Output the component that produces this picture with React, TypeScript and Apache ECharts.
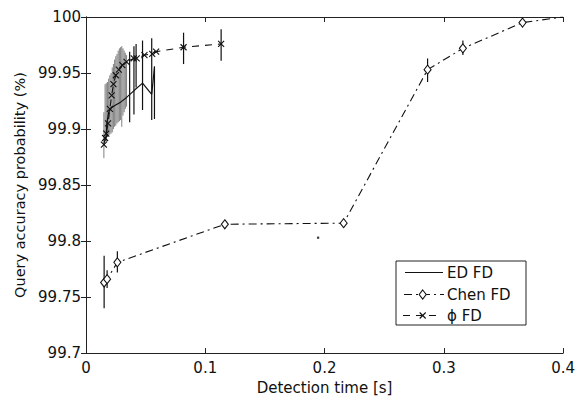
import React, { useEffect, useRef } from "react";
import * as echarts from "echarts";

// ---- axis ranges / ticks ----
const xTicks = [0, 0.1, 0.2, 0.3, 0.4];
const yTicks = [99.7, 99.75, 99.8, 99.85, 99.9, 99.95, 100];

// ---- legend entries ----
const legendNames = ["ED FD", "Chen FD", "ϕ FD"];

// ---- Chen FD (diamonds, dash-dot) ----
const chenX = [0.0152, 0.0177, 0.0263, 0.1164, 0.216, 0.2864, 0.316, 0.366, 0.4];
const chenY = [99.763, 99.766, 99.781, 99.815, 99.816, 99.953, 99.972, 99.995, 100.0];
const chenMark = [1, 1, 1, 1, 1, 1, 1, 1, 0];
const chenErrX = [0.0152, 0.0177, 0.0263, 0.2864, 0.316];
const chenErrLo = [99.74, 99.758, 99.772, 99.942, 99.966];
const chenErrHi = [99.787, 99.774, 99.791, 99.963, 99.979];

// ---- ED FD (solid) ----
const edX = [0.0166, 0.0175, 0.019, 0.0214, 0.0241, 0.029, 0.0338, 0.041, 0.0474, 0.0551, 0.0574];
const edY = [99.889, 99.905, 99.915, 99.919, 99.921, 99.924, 99.928, 99.935, 99.941, 99.931, 99.955];
const edErrX = [0.0366, 0.0402, 0.0474, 0.0551, 0.0574];
const edErrLo = [99.906, 99.913, 99.917, 99.908, 99.909];
const edErrHi = [99.969, 99.974, 99.979, 99.981, 99.956];

// ---- phi FD (x markers, dashed) ----
const phiX = [0.015, 0.016, 0.017, 0.0185, 0.02, 0.0215, 0.023, 0.025, 0.0275, 0.0305, 0.034, 0.04, 0.0425, 0.049, 0.0555, 0.0588, 0.0818, 0.1133];
const phiY = [99.886, 99.892, 99.896, 99.905, 99.918, 99.93, 99.94, 99.948, 99.953, 99.957, 99.96, 99.963, 99.963, 99.966, 99.967, 99.969, 99.973, 99.976];
const phiErrX = [0.042, 0.0818, 0.1133];
const phiErrLo = [99.937, 99.958, 99.961];
const phiErrHi = [99.976, 99.986, 99.989];

// ---- dense grey error bars (early detection times) ----
const greyX = [0.015, 0.016, 0.017, 0.018, 0.019, 0.02, 0.021, 0.022, 0.023, 0.024, 0.025, 0.026, 0.027, 0.028, 0.029, 0.03, 0.031, 0.032, 0.033, 0.034];
const greyHi = [99.915, 99.94, 99.941, 99.942, 99.945, 99.948, 99.95, 99.955, 99.958, 99.962, 99.965, 99.967, 99.97, 99.972, 99.973, 99.974, 99.972, 99.97, 99.968, 99.966];
const greyLo = [99.874, 99.89, 99.892, 99.893, 99.894, 99.895, 99.896, 99.897, 99.9, 99.902, 99.903, 99.905, 99.906, 99.907, 99.908, 99.902, 99.912, 99.915, 99.918, 99.92];

// stray dot
const strayX = [0.1946];
const strayY = [99.803];

const FONT = "DejaVu Sans";
const INK = "#111";

function errSeries(xs: number[], lo: number[], hi: number[], color: string, width: number, opacity = 1) {
  return {
    type: "custom",
    silent: true,
    clip: true,
    data: xs.map((x, i) => [x, lo[i], hi[i]]),
    encode: { x: 0, y: [1, 2] },
    renderItem: (params: any, api: any) => {
      const p1 = api.coord([api.value(0), api.value(1)]);
      const p2 = api.coord([api.value(0), api.value(2)]);
      return {
        type: "line",
        shape: { x1: p1[0], y1: p1[1], x2: p2[0], y2: p2[1] },
        style: { stroke: color, lineWidth: width, opacity },
      };
    },
    z: 2,
  };
}

const fmt = (v: number) => String(+v.toFixed(2));

function buildLegend() {
  const L = 396, T = 261, W = 130, H = 64;
  const rows = [272.5, 294.5, 315.5];
  const textX = 447;
  const cx = 422.7;
  const els: any[] = [
    { type: "rect", z: 100, shape: { x: L, y: T, width: W, height: H }, style: { fill: "#fff", stroke: "#222", lineWidth: 1 } },
    { type: "line", z: 101, shape: { x1: 405, y1: rows[0], x2: 443, y2: rows[0] }, style: { stroke: INK, lineWidth: 1.2 } },
    { type: "line", z: 101, shape: { x1: 404, y1: rows[1], x2: 444, y2: rows[1] }, style: { stroke: INK, lineWidth: 1.1, lineDash: [8, 4, 2, 4] } },
    {
      type: "polygon", z: 102,
      shape: { points: [[cx, rows[1] - 4.5], [cx + 3.5, rows[1]], [cx, rows[1] + 4.5], [cx - 3.5, rows[1]]] },
      style: { fill: "#fff", stroke: INK, lineWidth: 1.1 },
    },
    { type: "line", z: 101, shape: { x1: 403, y1: rows[2], x2: 441, y2: rows[2] }, style: { stroke: INK, lineWidth: 1.1, lineDash: [7, 6] } },
    { type: "line", z: 102, shape: { x1: cx - 3, y1: rows[2] - 3, x2: cx + 3, y2: rows[2] + 3 }, style: { stroke: INK, lineWidth: 1.1 } },
    { type: "line", z: 102, shape: { x1: cx - 3, y1: rows[2] + 3, x2: cx + 3, y2: rows[2] - 3 }, style: { stroke: INK, lineWidth: 1.1 } },
  ];
  legendNames.forEach((n, i) => {
    els.push({
      type: "text", z: 102, x: textX, y: rows[i],
      style: { text: n, fill: INK, fontFamily: FONT, fontSize: 15, verticalAlign: "middle", align: "left" },
    });
  });
  return els;
}

export default function App() {
  const ref = useRef<HTMLDivElement>(null);
  useEffect(() => {
    if (!ref.current) return;
    const chart = echarts.init(ref.current, undefined, { renderer: "svg" });
    const axisLine = { show: true, lineStyle: { color: "#222", width: 1 } };
    const tick = { show: true, inside: true, length: 5, lineStyle: { color: "#222" } };
    const lbl = { color: INK, fontFamily: FONT, fontSize: 15 };
    const option: any = {
      animation: false,
      backgroundColor: "#fff",
      textStyle: { fontFamily: FONT },
      grid: { left: 86, right: 11, top: 17, bottom: 37, containLabel: false },
      xAxis: [
        {
          type: "value", min: xTicks[0], max: xTicks[xTicks.length - 1], interval: 0.1,
          axisLine, axisTick: tick, splitLine: { show: false },
          axisLabel: { ...lbl, margin: 7, formatter: fmt },
          name: "Detection time [s]", nameLocation: "middle", nameGap: 23,
          nameTextStyle: { color: INK, fontFamily: FONT, fontSize: 15 },
        },
        {
          type: "value", position: "top", min: xTicks[0], max: xTicks[xTicks.length - 1], interval: 0.1,
          axisLine, axisTick: tick, axisLabel: { show: false }, splitLine: { show: false },
        },
      ],
      yAxis: [
        {
          type: "value", min: yTicks[0], max: yTicks[yTicks.length - 1], interval: 0.05,
          axisLine, axisTick: tick, splitLine: { show: false },
          axisLabel: { ...lbl, margin: 5, formatter: fmt },
          name: "Query accuracy probability (%)", nameLocation: "middle", nameGap: 55,
          nameTextStyle: { color: INK, fontFamily: FONT, fontSize: 14.5 },
        },
        {
          type: "value", position: "right", min: yTicks[0], max: yTicks[yTicks.length - 1], interval: 0.05,
          axisLine, axisTick: tick, axisLabel: { show: false }, splitLine: { show: false },
        },
      ],
      graphic: buildLegend(),
      series: [
        errSeries(greyX, greyLo, greyHi, "#555", 1.0, 0.75),
        errSeries(edErrX, edErrLo, edErrHi, INK, 1.2),
        errSeries(phiErrX, phiErrLo, phiErrHi, INK, 1.2),
        errSeries(chenErrX, chenErrLo, chenErrHi, INK, 1.2),
        {
          name: legendNames[0], type: "line", symbol: "none",
          data: edX.map((x, i) => [x, edY[i]]),
          lineStyle: { color: INK, width: 1.2, type: "solid" },
          itemStyle: { color: INK }, z: 3,
        },
        {
          name: legendNames[1], type: "line", symbol: "diamond", symbolSize: [7, 9],
          data: chenX.map((x, i) => (chenMark[i] ? [x, chenY[i]] : { value: [x, chenY[i]], symbol: "none" })),
          lineStyle: { color: INK, width: 1.1, type: [8, 4, 2, 4] },
          itemStyle: { color: "#fff", borderColor: INK, borderWidth: 1.1 }, z: 4,
        },
        {
          name: legendNames[2], type: "line", symbol: "path://M0 0L10 10M10 0L0 10", symbolSize: 6,
          data: phiX.map((x, i) => [x, phiY[i]]),
          lineStyle: { color: INK, width: 1.1, type: [7, 6] },
          itemStyle: { color: "none", borderColor: INK, borderWidth: 1.1 }, z: 4,
        },
        {
          type: "scatter", symbol: "circle", symbolSize: 2.5, silent: true,
          data: strayX.map((x, i) => [x, strayY[i]]),
          itemStyle: { color: INK },
        },
      ],
    };
    chart.setOption(option);
    return () => chart.dispose();
  }, []);
  return <div ref={ref} style={{ position: "fixed", left: 0, top: 0, width: 578, height: 400 }} />;
}
